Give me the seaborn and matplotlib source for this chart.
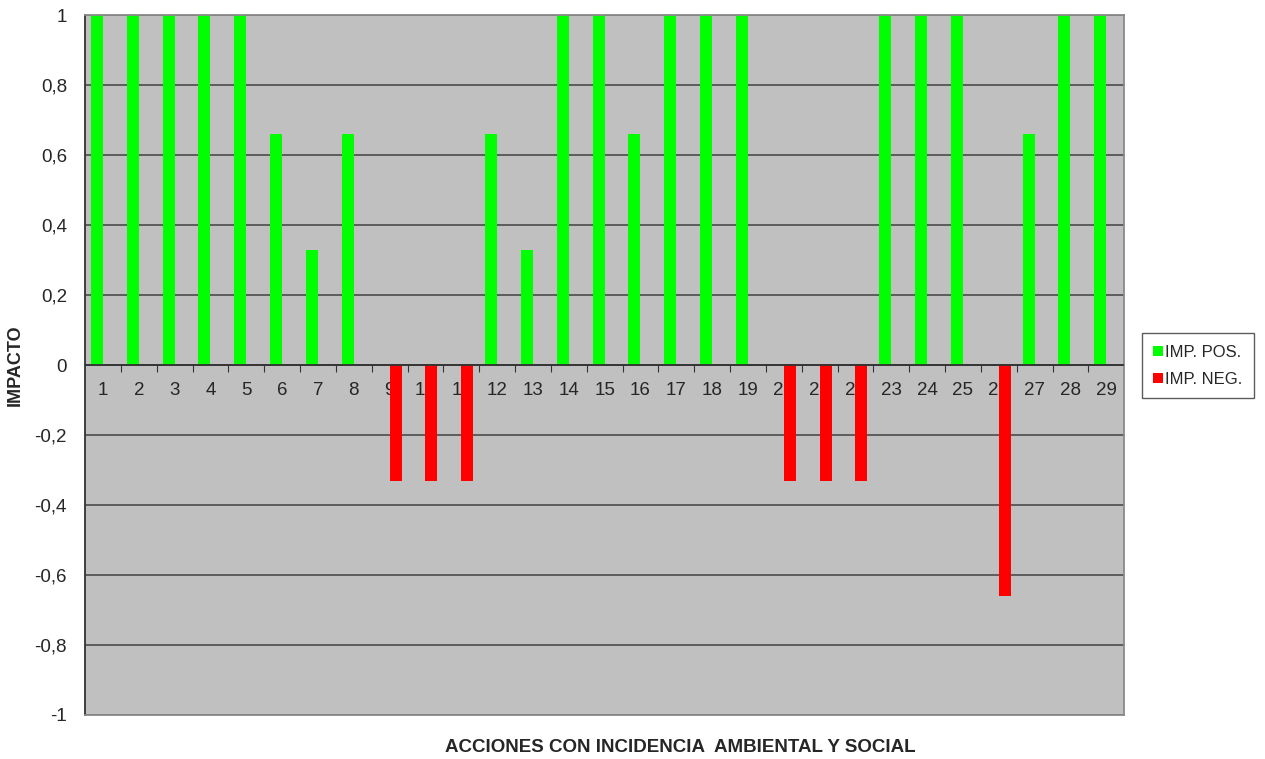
import seaborn as sns
import matplotlib.pyplot as plt
import pandas as pd
from matplotlib.ticker import FixedLocator, FuncFormatter

acciones = [str(i) for i in range(1, 30)]
imp_pos = [1, 1, 1, 1, 1, 0.66, 0.33, 0.66, 0, 0, 0, 0.66, 0.33, 1, 1,
           0.66, 1, 1, 1, 0, 0, 0, 1, 1, 1, 0, 0.66, 1, 1]
imp_neg = [0, 0, 0, 0, 0, 0, 0, 0, -0.33, -0.33, -0.33, 0, 0, 0, 0,
           0, 0, 0, 0, -0.33, -0.33, -0.33, 0, 0, 0, -0.66, 0, 0, 0]
series = ["IMP. POS.", "IMP. NEG."]
colores = ["#00FF00", "#FF0000"]
y_ticks = [-1, -0.8, -0.6, -0.4, -0.2, 0, 0.2, 0.4, 0.6, 0.8, 1]

df = pd.DataFrame({
    "accion": acciones * 2,
    "valor": imp_pos + imp_neg,
    "serie": [series[0]] * len(acciones) + [series[1]] * len(acciones),
})

sns.set_style("white")
plt.rcParams["font.family"] = ["Liberation Sans", "DejaVu Sans"]

fig = plt.figure(figsize=(12.65, 7.59), dpi=100)
ax = fig.add_axes([0.0672, 0.058, 0.8215, 0.922])
ax.set_facecolor("#C0C0C0")

sns.barplot(data=df, x="accion", y="valor", hue="serie", palette=colores,
            width=0.67, saturation=1, linewidth=0, ax=ax, legend=True)

ax.set_ylim(-1, 1)
ax.set_xlim(-0.5, len(acciones) - 0.5)
ax.yaxis.set_major_locator(FixedLocator(y_ticks))
ax.yaxis.set_major_formatter(FuncFormatter(
    lambda v, p: ("%g" % round(v, 1)).replace(".", ",")))
ax.grid(axis="y", color="#555555", linewidth=1.3)
ax.set_axisbelow(True)
ax.axhline(0, color="#333333", linewidth=1.3, zorder=3)
ax.tick_params(axis="y", length=5, direction="out", labelsize=13.5, pad=8, color="#333333")
ax.tick_params(axis="x", bottom=False, labelbottom=False)

for s in ["top", "right", "bottom"]:
    ax.spines[s].set_color("#8a8a8a")
    ax.spines[s].set_linewidth(1.3)
ax.spines["left"].set_color("#333333")
ax.spines["left"].set_linewidth(1.3)

# eje de categorías sobre la línea de cero (las barras lo tapan)
sec = ax.secondary_xaxis(0.5)
sec.set_zorder(0.8)
sec.spines["bottom"].set_visible(False)
sec.spines["top"].set_visible(False)
sec.xaxis.set_ticks_position("bottom")
sec.xaxis.set_major_locator(FixedLocator([i + 0.5 for i in range(len(acciones) - 1)]))
sec.xaxis.set_major_formatter(FuncFormatter(lambda v, p: ""))
sec.xaxis.set_minor_locator(FixedLocator(range(len(acciones))))
sec.xaxis.set_minor_formatter(FuncFormatter(lambda v, p: acciones[int(round(v))]))
sec.tick_params(axis="x", which="major", bottom=True, top=False, length=5,
                direction="out", color="#333333")
sec.tick_params(axis="x", which="minor", bottom=True, top=False, labelbottom=True,
                labeltop=False, length=0, labelsize=13.5, pad=12)

ax.set_xlabel("ACCIONES CON INCIDENCIA  AMBIENTAL Y SOCIAL", fontsize=13.5,
              fontweight="bold")
ax.xaxis.set_label_coords(0.573, -0.034)
ax.set_ylabel("IMPACTO", fontsize=13, fontweight="bold", labelpad=8)

handles, labels = ax.get_legend_handles_labels()
leg = ax.legend(handles, labels, loc="center left", bbox_to_anchor=(0.896, 0.518),
                bbox_transform=fig.transFigure, frameon=True, fancybox=False,
                edgecolor="#333333", fontsize=12, handlelength=0.6,
                handleheight=0.6, handletextpad=0.1, labelspacing=0.7,
                borderpad=0.7)
leg.get_frame().set_linewidth(1.0)

plt.savefig("out.png", dpi=100, facecolor="white")
